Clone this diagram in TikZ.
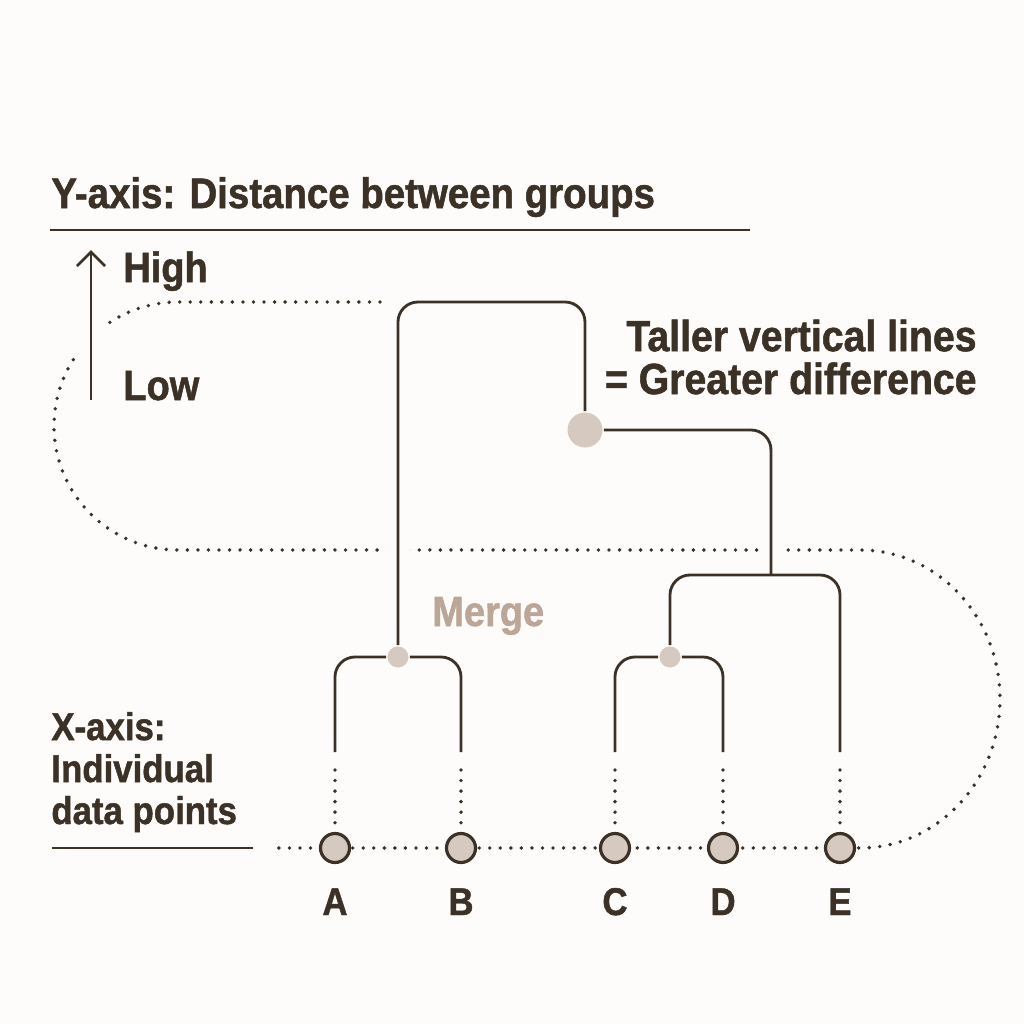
\documentclass[tikz,border=0pt]{standalone}
\usepackage{fontspec}
\setmainfont{Liberation Sans}[FakeStretch=0.9, BoldFeatures={FakeBold=1.2}]
\usetikzlibrary{arrows.meta}
\definecolor{cink}{HTML}{3B3127}
\definecolor{cdot}{HTML}{D6C9BF}
\definecolor{cmerge}{HTML}{BCA698}
\definecolor{cbg}{HTML}{FDFCFA}
\tikzset{
  every picture/.style={line width=1.6pt},
  leaf/.style={circle, draw=cink, fill=cdot, line width=1.8pt, minimum size=0.58cm, inner sep=0pt},
  mdot/.style={circle, fill=cdot, minimum size=#1, inner sep=0pt},
  mdot/.default=0.42cm,
  branch/.style={draw=cink, rounded corners=0.4cm},
  dots/.style={draw=cink, line width=2.2pt, line cap=round, dash pattern=on 0pt off 6pt},
  cutdots/.style={preaction={draw=cbg, line width=#1}},
  cutdots/.default=0.5cm,
  yarrow/.style={draw=cink, -{Straight Barb[length=8pt, width=16pt]}, preaction={draw=cbg, line width=0.65cm, -}},
  txt/.style={font=\bfseries\fontsize{24}{24.4}\selectfont, text=cink, inner sep=0pt},
  small/.style={font=\bfseries\fontsize{22}{23.9}\selectfont},
}

\begin{document}
\begin{tikzpicture}[x=0.02cm, y=-0.02cm]
  \fill[cbg] (0,0) rectangle (1024,1024);
  % ---------- axes ----------
  \node[txt, font=\bfseries\fontsize{24.3}{28}\selectfont, anchor=base west] (ytitle) at (50,208) {Y-axis: Distance between groups};
  \coordinate (rulea) at (50,230);
  \coordinate (ruleb) at (750,230);
  \draw[cink] (rulea) -- (ruleb);
  \node[txt, anchor=base west] (high) at (122,282) {High};
  \node[txt, anchor=base west] (low) at (122,400) {Low};
  \node[txt, small, align=left, anchor=base west] (xtitle) at (50,824) {X-axis:\\Individual\\data points};
  \coordinate (rulec) at (52,848);
  \coordinate (ruled) at (253,848);
  \draw[cink] (rulec) -- (ruled);
  % ---------- dotted loop ----------
  \coordinate (loopstart) at (380,302);
  \coordinate (xstart) at (272,848);
  \draw[dots] (loopstart) -- (178,302) arc[start angle=90, end angle=270, radius=2.48cm]
    -- (860,550) arc[start angle=90, end angle=-90, x radius=2.8cm, y radius=2.98cm] -- (xstart);
  \coordinate (ylow) at (91,400);
  \coordinate (yhigh) at (91,250);
  \draw[yarrow] (ylow) -- (yhigh);
  % ---------- leaves ----------
  \foreach \n/\x in {A/335, B/461, C/615, D/723, E/840} {
    \node[leaf] (\n) at (\x,848) {};
    \node[txt, small, anchor=base] (l\n) at (\x,915) {\n};
    \coordinate (s\n) at (\x,752);
    \coordinate (d\n) at (\x,770);
    \draw[dots] (d\n) -- (\n);
  }
  % ---------- merges ----------
  \node[mdot] (mab) at (398,657) {};
  \node[mdot] (mcd) at (670,657) {};
  \node[mdot=0.7cm] (mall) at (585,430) {};
  \coordinate (cde) at (771,575);
  \coordinate (top) at (491,302);
  \draw[branch, cutdots] (cde) |- (mall);
  \draw[branch, cutdots] (mab) |- (top) -| (mall);
  \draw[branch] (sA) |- (mab);
  \draw[branch] (sB) |- (mab);
  \draw[branch] (sC) |- (mcd);
  \draw[branch] (sD) |- (mcd);
  \draw[branch] (mcd) |- (cde) -| (sE);
  \node[txt, text=cmerge, font=\bfseries\fontsize{24}{28}\selectfont, anchor=base west] (merge) at (431,626) {Merge};
  \node[txt, font=\bfseries\fontsize{24.8}{24.4}\selectfont, align=right, anchor=base east] (note) at (978,394) {Taller vertical lines\\= Greater difference};
\end{tikzpicture}
\end{document}
